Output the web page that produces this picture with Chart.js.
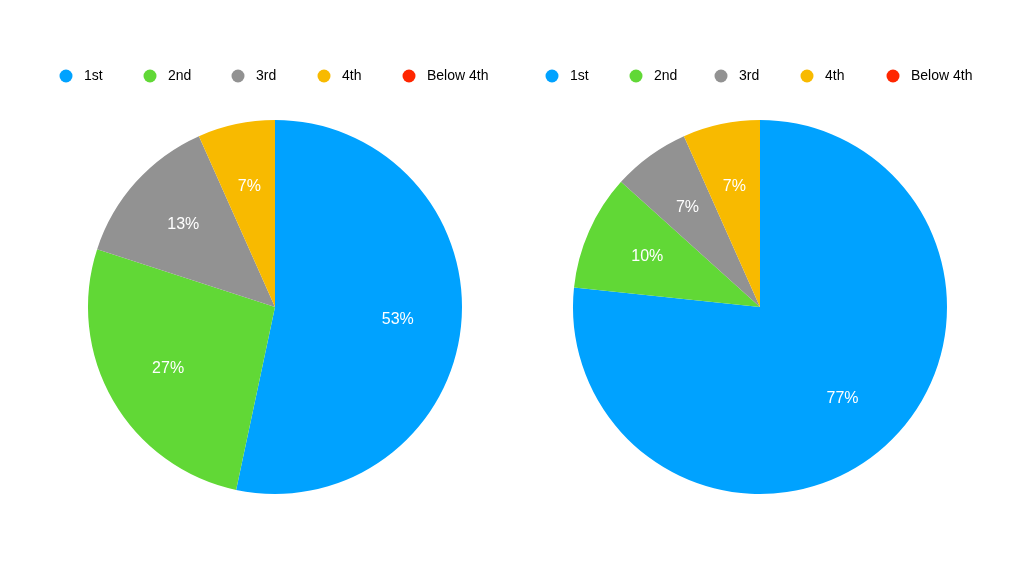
<!DOCTYPE html>
<html><head><meta charset="utf-8">
<script src="https://cdn.jsdelivr.net/npm/chart.js@4"></script>
<style>
html,body{margin:0;padding:0;background:#fff;}
.wrap{display:flex;width:1024px;height:580px;}
.c{position:relative;width:512px;height:580px;}
</style></head><body>
<div class="wrap"><div class="c"><canvas id="a"></canvas></div><div class="c"><canvas id="b"></canvas></div></div>
<script>
const categories = ["1st","2nd","3rd","4th","Below 4th"];
const leftCounts = [16, 8, 4, 2, 0];
const rightCounts = [23, 3, 2, 2, 0];
const colors = ["#00A2FF","#61D836","#929292","#F8BA00","#FF2600"];

function plugin(slots){
  return {
    id:'custom',
    afterDraw(chart){
      const ctx = chart.ctx;
      const meta = chart.getDatasetMeta(0);
      const data = chart.data.datasets[0].data;
      const total = data.reduce((a,b)=>a+b,0);
      ctx.save();
      ctx.font = '16px "Liberation Sans", Helvetica, Arial, sans-serif';
      ctx.fillStyle = '#fff';
      ctx.textAlign = 'center'; ctx.textBaseline = 'middle';
      meta.data.forEach((arc,i)=>{
        if(!data[i]) return;
        const mid = (arc.startAngle+arc.endAngle)/2;
        const r = arc.outerRadius*0.66;
        ctx.fillText(Math.round(data[i]/total*100)+'%', arc.x+Math.cos(mid)*r, arc.y+Math.sin(mid)*r);
      });
      ctx.font = '14px "Liberation Sans", Helvetica, Arial, sans-serif';
      ctx.textAlign = 'left';
      chart.data.labels.forEach((l,i)=>{
        ctx.fillStyle = colors[i];
        ctx.beginPath(); ctx.arc(slots[i],76,6.5,0,Math.PI*2); ctx.fill();
        ctx.fillStyle = '#000';
        ctx.fillText(l, slots[i]+18, 76);
      });
      ctx.restore();
    }
  };
}
function make(id, counts, pad, slots){
  new Chart(document.getElementById(id),{
    type:'pie',
    data:{labels:categories,datasets:[{data:counts,backgroundColor:colors,borderWidth:0}]},
    options:{responsive:true,maintainAspectRatio:false,animation:false,
      layout:{padding:pad},
      plugins:{legend:{display:false},tooltip:{enabled:false}}},
    plugins:[plugin(slots)]
  });
}
make('a', leftCounts, {left:88,right:50,top:120,bottom:86}, [66,150,238,324,409]);
make('b', rightCounts, {left:61,right:77,top:120,bottom:86}, [40,124,209,295,381]);
</script></body></html>
